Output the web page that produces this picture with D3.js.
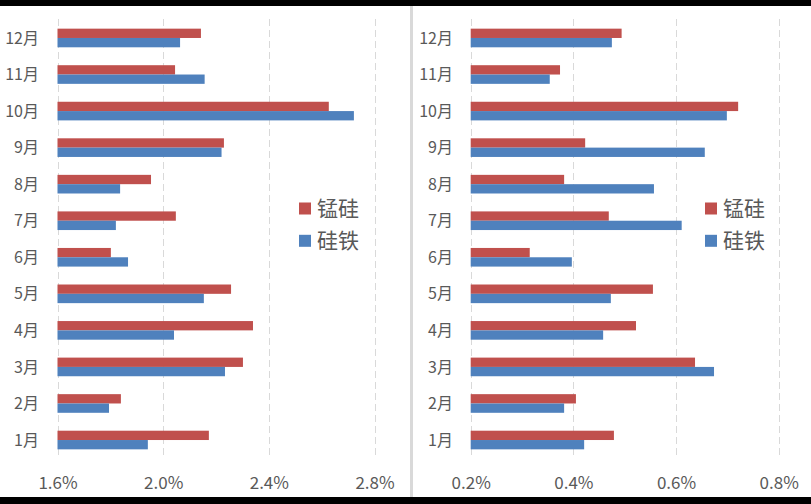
<!DOCTYPE html>
<html><head><meta charset="utf-8">
<script src="https://cdn.jsdelivr.net/npm/d3@7"></script>
<style>body{margin:0;background:#fff}svg{display:block}text{font-family:"Noto Sans CJK SC","Microsoft YaHei",sans-serif;fill:#595959}</style>
</head><body><svg id="c" width="811" height="504"></svg>
<script>
const categories = ["12月","11月","10月","9月","8月","7月","6月","5月","4月","3月","2月","1月"];
const seriesNames = ["锰硅","硅铁"];
const leftMnSi = [2.143,2.045,2.627,2.230,1.954,2.048,1.802,2.257,2.340,2.302,1.840,2.173];
const leftFeSi = [2.064,2.157,2.722,2.221,1.837,1.821,1.867,2.154,2.041,2.234,1.795,1.942];
const rightMnSi = [0.494,0.374,0.721,0.423,0.382,0.469,0.315,0.555,0.522,0.637,0.405,0.479];
const rightFeSi = [0.475,0.354,0.699,0.656,0.557,0.611,0.397,0.473,0.458,0.674,0.382,0.421];
const leftTicks = [1.6,2.0,2.4,2.8];
const rightTicks = [0.2,0.4,0.6,0.8];
const colors = ["#C0504D","#4F81BD"];

const svg = d3.select("#c");
svg.append("rect").attr("x",0).attr("y",0).attr("width",811).attr("height",504).attr("fill","#fff");

function panel(cfg){
  const g = svg.append("g");
  const x = d3.scaleLinear().domain(cfg.domain).range(cfg.xr);
  const y = d3.scaleBand().domain(categories).range([19.7,458.3]).paddingInner(0.49).paddingOuter(0.245);
  const ys = d3.scaleBand().domain(seriesNames).range([0,y.bandwidth()]);
  // gridlines
  g.selectAll("line.grid").data(cfg.ticks).join("line")
    .attr("x1",d=>Math.round(x(d))+0.5).attr("x2",d=>Math.round(x(d))+0.5)
    .attr("y1",19).attr("y2",456)
    .attr("stroke","#d9d9d9").attr("stroke-width",1)
    .attr("stroke-dasharray","7,4");
  const data = [cfg.a, cfg.b];
  seriesNames.forEach((s,si)=>{
    g.selectAll("rect.s"+si).data(categories).join("rect")
      .attr("x",x(cfg.domain[0]))
      .attr("y",(c)=>y(c)+ys(s))
      .attr("width",(c,i)=>x(data[si][i])-x(cfg.domain[0]))
      .attr("height",ys.bandwidth())
      .attr("fill",colors[si]);
  });
  // category labels
  g.selectAll("text.cat").data(categories).join("text")
    .attr("x",cfg.labelX).attr("y",c=>y(c)+y.bandwidth()/2)
    .attr("dy","0.35em").attr("text-anchor","end")
    .attr("font-size",16).text(c=>c);
  // x axis labels
  const axis = d3.axisBottom(x).tickValues(cfg.ticks).tickFormat(d=>d.toFixed(1)+"%").tickSize(0).tickPadding(0);
  const ag = g.append("g").attr("transform","translate(0,477)").call(axis);
  ag.select(".domain").remove();
  ag.selectAll("text").attr("font-size",17).attr("fill","#595959")
    .style("font-family","'Noto Sans CJK SC',sans-serif");
  // legend
  const lg = g.append("g").attr("transform",`translate(${cfg.legX},202.5)`);
  seriesNames.forEach((s,si)=>{
    lg.append("rect").attr("x",0).attr("y",si*32.3).attr("width",12).attr("height",12).attr("fill",colors[si]);
    lg.append("text").attr("x",18).attr("y",si*32.3+6).attr("dy","0.36em").attr("font-size",21).text(s);
  });
}

panel({domain:[1.6,2.8], xr:[57.5,374.5], ticks:leftTicks, a:leftMnSi, b:leftFeSi, labelX:39, legX:299});
panel({domain:[0.2,0.8], xr:[470.7,778.7], ticks:rightTicks, a:rightMnSi, b:rightFeSi, labelX:453, legX:705});

// divider
svg.append("rect").attr("x",410).attr("y",6).attr("width",3).attr("height",491).attr("fill","#d9d9d9");
// black borders
svg.append("rect").attr("x",0).attr("y",0).attr("width",811).attr("height",6).attr("fill","#000");
svg.append("rect").attr("x",0).attr("y",497).attr("width",811).attr("height",7).attr("fill","#000");
</script></body></html>
